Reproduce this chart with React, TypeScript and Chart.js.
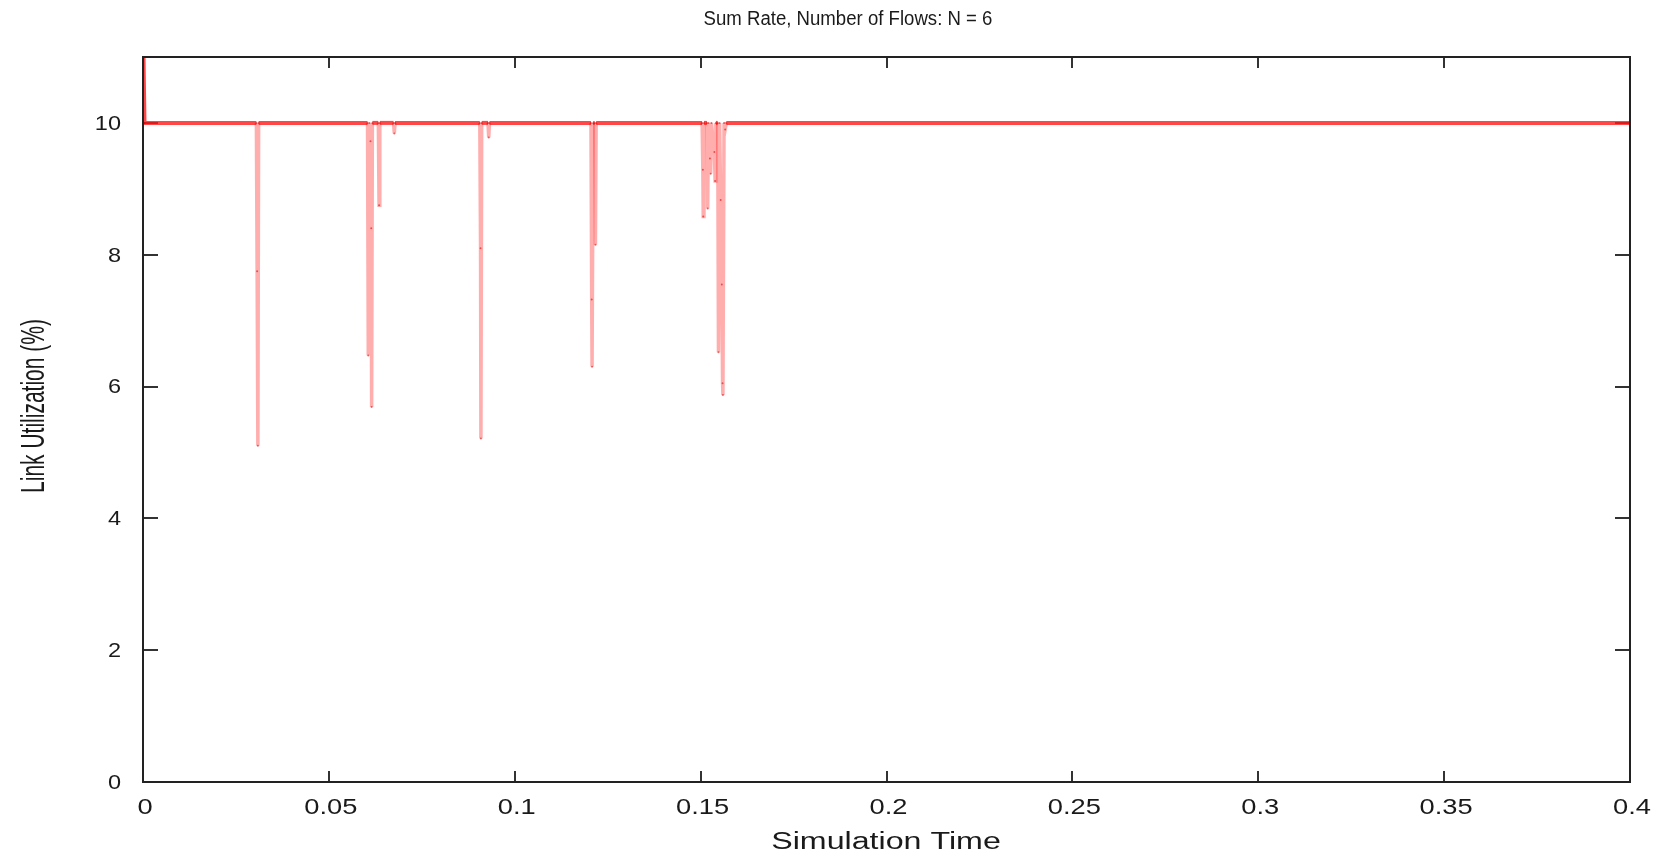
import React, { useEffect, useRef } from "react";
import { Chart, registerables } from "chart.js";

Chart.register(...registerables);

const chartTitle = "Sum Rate, Number of Flows: N = 6";
const xAxisLabel = "Simulation Time";
const yAxisLabel = "Link Utilization (%)";

const xTicks = [0, 0.05, 0.1, 0.15, 0.2, 0.25, 0.3, 0.35, 0.4];
const xTickLabels = ["0", "0.05", "0.1", "0.15", "0.2", "0.25", "0.3", "0.35", "0.4"];
const yTicks = [0, 2, 4, 6, 8, 10];
const yTickLabels = ["0", "2", "4", "6", "8", "10"];

const times = [
  0, 0.0004,
  0.0305, 0.0307, 0.0309, 0.0311,
  0.0604, 0.0606, 0.0609, 0.0612, 0.0614, 0.0615, 0.0617,
  0.0633, 0.0635, 0.0637,
  0.0674, 0.0676, 0.0678,
  0.0906, 0.0908, 0.0909, 0.0911,
  0.0928, 0.093, 0.0932,
  0.1205, 0.1207, 0.1208, 0.1211,
  0.1215, 0.1217, 0.1219,
  0.1504, 0.1506, 0.1507, 0.1509,
  0.1517, 0.1519, 0.1521,
  0.1525, 0.1527, 0.1529,
  0.1537, 0.1539, 0.1541,
  0.1546, 0.1548, 0.1551,
  0.1554, 0.1557, 0.1559, 0.156, 0.1563,
  0.1566, 0.1569,
  0.4,
];

const utilization = [
  11.5, 10,
  10, 7.75, 5.1, 10,
  10, 6.47, 10, 9.72, 8.4, 5.69, 10,
  10, 8.75, 10,
  10, 9.84, 10,
  10, 8.1, 5.21, 10,
  10, 9.78, 10,
  10, 7.32, 6.3, 10,
  10, 8.15, 10,
  10, 9.29, 8.58, 10,
  10, 8.7, 10,
  9.46, 9.23, 10,
  9.56, 9.12, 10,
  10, 6.52, 10,
  8.83, 7.55, 6.05, 5.87, 10,
  9.9, 10,
  10,
];

const FONT = "'Liberation Sans', Arial, Helvetica, sans-serif";

function drawStretched(
  ctx: CanvasRenderingContext2D,
  text: string,
  x: number,
  y: number,
  size: number,
  sx: number,
  align: CanvasTextAlign,
  rotate = 0
) {
  ctx.save();
  ctx.translate(x, y);
  ctx.scale(sx, 1);
  if (rotate) ctx.rotate(rotate);
  ctx.font = `${size}px ${FONT}`;
  ctx.fillStyle = "#1a1a1a";
  ctx.textAlign = align;
  ctx.textBaseline = "middle";
  ctx.fillText(text, 0, 0);
  ctx.restore();
}

const framePlugin = {
  id: "gnuplotFrame",
  beforeDatasetsDraw(chart: any) {
    const { ctx, chartArea } = chart;
    const { left, right, top, bottom } = chartArea;
    const xs = chart.scales.x;
    const ys = chart.scales.y;
    ctx.save();
    ctx.strokeStyle = "#333";
    ctx.lineWidth = 2;
    ctx.beginPath();
    xs.ticks.forEach((t: any) => {
      const px = Math.round(xs.getPixelForValue(t.value));
      if (px <= left + 1 || px >= right - 1) return;
      ctx.moveTo(px, bottom);
      ctx.lineTo(px, bottom - 11);
      ctx.moveTo(px, top);
      ctx.lineTo(px, top + 11);
    });
    ys.ticks.forEach((t: any) => {
      const py = Math.round(ys.getPixelForValue(t.value));
      if (py >= bottom - 1) return;
      ctx.moveTo(left, py);
      ctx.lineTo(left + 15, py);
      ctx.moveTo(right, py);
      ctx.lineTo(right - 15, py);
    });
    ctx.stroke();
    ctx.restore();
  },
  afterDraw(chart: any) {
    const { ctx, chartArea } = chart;
    const { left, right, top, bottom } = chartArea;
    const xs = chart.scales.x;
    const ys = chart.scales.y;
    ctx.save();
    ctx.strokeStyle = "#222";
    ctx.lineWidth = 2;
    ctx.strokeRect(left, top, right - left, bottom - top);
    ctx.restore();

    xs.ticks.forEach((t: any, i: number) => {
      const px = xs.getPixelForValue(t.value);
      drawStretched(ctx, xTickLabels[i] ?? String(t.value), px + 2, bottom + 26, 22, 1.24, "center");
    });
    ys.ticks.forEach((t: any, i: number) => {
      const py = ys.getPixelForValue(t.value);
      drawStretched(ctx, yTickLabels[i] ?? String(t.value), left - 22, py + 1, 21, 1.12, "right");
    });
    drawStretched(ctx, chartTitle, 848, 19, 20, 0.93, "center");
    drawStretched(ctx, xAxisLabel, 886, 843, 23, 1.4, "center");
    drawStretched(ctx, yAxisLabel, 35, 406, 21, 1.6, "center", -Math.PI / 2);
  },
};

export default function App() {
  const canvasRef = useRef<HTMLCanvasElement | null>(null);

  useEffect(() => {
    const canvas = canvasRef.current;
    if (!canvas) return;
    const points = times.map((t, i) => ({ x: t, y: utilization[i] }));
    const isFlat = (c: any) => c.p0.parsed.y >= 10 && c.p1.parsed.y >= 10;
    const chart = new Chart(canvas, {
      type: "line",
      data: {
        datasets: [
          {
            label: "Sum Rate",
            data: points,
            borderColor: "rgba(255,0,0,0.32)",
            borderWidth: 3.5,
            pointRadius: 1,
            pointBorderWidth: 0,
            pointBackgroundColor: "rgba(210,0,0,0.55)",
            tension: 0,
            segment: {
              borderColor: (c: any) => (isFlat(c) ? "rgba(255,25,25,0.8)" : "rgba(255,0,0,0.32)"),
              borderWidth: (c: any) => (isFlat(c) ? 4 : 3.5),
            },
          },
        ],
      },
      options: {
        animation: false,
        responsive: false,
        devicePixelRatio: 1,
        layout: { padding: { left: 143, right: 34, top: 57, bottom: 74 } },
        plugins: {
          legend: { display: false },
          title: { display: false },
          tooltip: { enabled: false },
        },
        scales: {
          x: {
            type: "linear",
            min: 0,
            max: 0.4,
            grid: { display: false, drawTicks: false },
            border: { display: false },
            ticks: { display: false },
            afterBuildTicks: (s: any) => {
              s.ticks = xTicks.map((v) => ({ value: v }));
            },
            afterFit: (s: any) => {
              s.height = 0;
            },
          },
          y: {
            type: "linear",
            min: 0,
            max: 11,
            grid: { display: false, drawTicks: false },
            border: { display: false },
            ticks: { display: false },
            afterBuildTicks: (s: any) => {
              s.ticks = yTicks.map((v) => ({ value: v }));
            },
            afterFit: (s: any) => {
              s.width = 0;
            },
          },
        },
      },
      plugins: [framePlugin],
    });
    return () => chart.destroy();
  }, []);

  return (
    <div style={{ position: "absolute", left: 0, top: 0, width: 1664, height: 856, background: "#fff" }}>
      <canvas ref={canvasRef} width={1664} height={856} />
    </div>
  );
}
